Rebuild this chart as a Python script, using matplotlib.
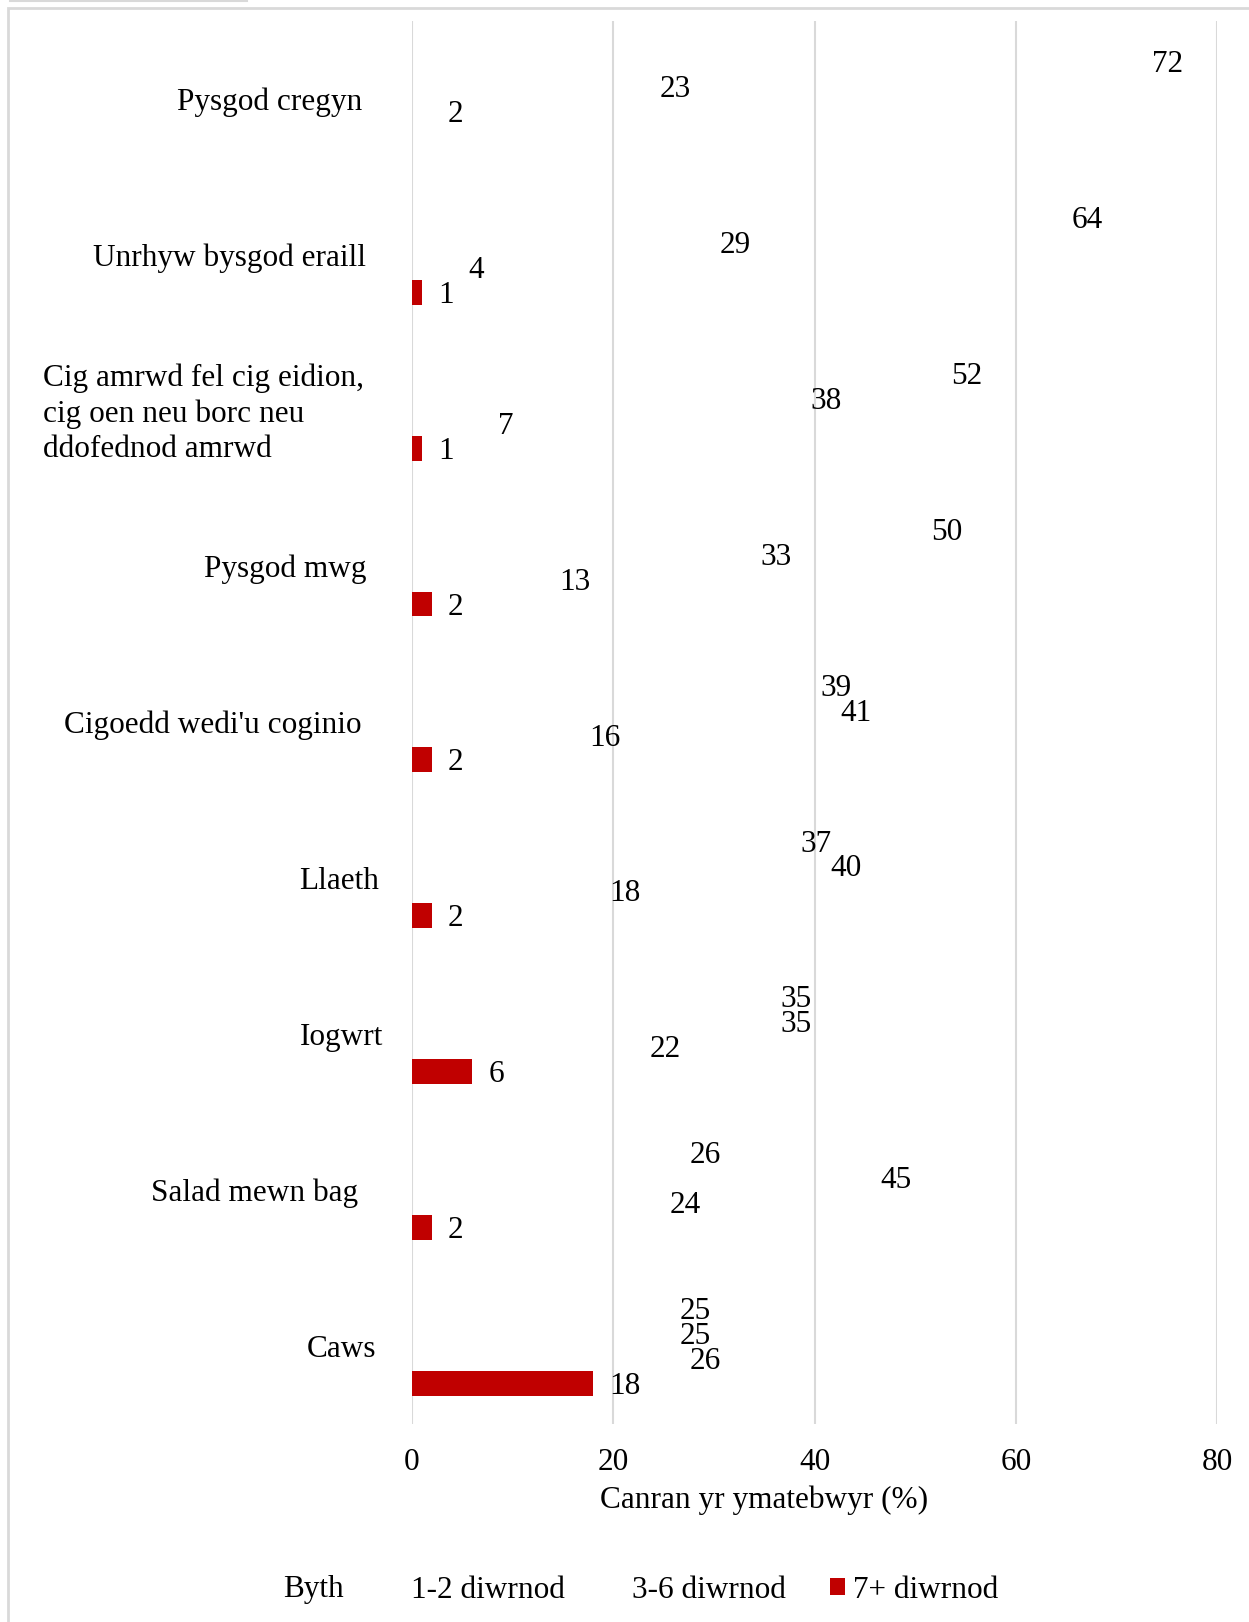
import numpy as np
import matplotlib
matplotlib.use('Agg')
import matplotlib.pyplot as plt
import matplotlib.transforms as mtransforms
from matplotlib.patches import Rectangle, Patch
from matplotlib.lines import Line2D

plt.rcParams['font.family'] = ['Liberation Serif', 'DejaVu Serif']

# data
categories = ['Pysgod cregyn', 'Unrhyw bysgod eraill',
              'Cig amrwd fel cig eidion,\ncig oen neu borc neu\nddofednod amrwd',
              'Pysgod mwg', "Cigoedd wedi'u coginio", 'Llaeth', 'Iogwrt',
              'Salad mewn bag', 'Caws']
series_names = ['Byth', '1-2 diwrnod', '3-6 diwrnod', '7+ diwrnod']
byth = [72, 64, 52, 50, 39, 37, 35, 26, 25]
d12 = [23, 29, 38, 33, 41, 40, 35, 45, 25]
d36 = [2, 4, 7, 13, 16, 18, 22, 24, 26]
d7 = [np.nan, 1, 1, 2, 2, 2, 6, 2, 18]
xticks = [0, 20, 40, 60, 80]
xlabel = 'Canran yr ymatebwyr (%)'

W, H = 1249, 1622
fig = plt.figure(figsize=(W / 100, H / 100), dpi=100)
ax = fig.add_axes([412 / W, 1 - 1424 / H, (1217 - 412) / W, (1424 - 21) / H])

fs = 22.5
y = np.arange(len(categories))
h = 0.16
colors = ['none', 'none', 'none', '#C00000']
for i, (vals, col) in enumerate(zip([byth, d12, d36, d7], colors)):
    vals = np.array(vals, dtype=float)
    pos = y + (i - 1.5) * h
    ax.barh(pos, np.nan_to_num(vals), height=h, color=col, edgecolor='none')
    # data labels
    for v, p in zip(vals, pos):
        if np.isnan(v):
            continue
        ax.annotate('%d' % v, (v, p), xytext=(11.5, -2.2), textcoords='offset points',
                    ha='left', va='center', fontsize=fs)

ax.set_xlim(0, 80)
ax.set_ylim(len(categories) - 0.5, -0.5)
ax.set_xticks(xticks)
ax.set_xticklabels([str(t) for t in xticks], fontsize=fs)
ax.set_yticks([])
ax.tick_params(axis='x', length=0, pad=17)
ax.grid(axis='x', color='#d9d9d9', linewidth=1.5)
ax.set_axisbelow(True)
for s in ax.spines.values():
    s.set_visible(False)

# category labels (right edges in pixels)
label_right = [362, 366, 364, 367, 361, 379, 383, 358, 376]
trans = mtransforms.blended_transform_factory(fig.transFigure, ax.transData)
shift = mtransforms.ScaledTranslation(0, -2.2 / 72, fig.dpi_scale_trans)
for yi, cat, xr in zip(y, categories, label_right):
    ax.text(xr / W, yi, cat, transform=trans + shift, ha='right', va='center',
            multialignment='left', fontsize=fs, linespacing=1.3)

fig.text(764 / W, 1 - 1500 / H, xlabel, ha='center', va='center', fontsize=fs)

# legend
handles = [Patch(facecolor=c if c != 'none' else 'white', edgecolor='none') for c in colors]
fig.legend(handles, series_names, loc='center', bbox_to_anchor=(629 / W, 1 - 1590 / H),
           ncol=4, frameon=False, fontsize=fs, handlelength=0.5, handleheight=0.5,
           handletextpad=0.25, columnspacing=1.4)

# outer frame
fig.add_artist(Rectangle((8 / W, -0.01), 1.1, 1 - 8 / H + 0.01, transform=fig.transFigure,
                         fill=False, edgecolor='#d9d9d9', linewidth=2))
fig.add_artist(Line2D([10 / W, 247 / W], [1 - 0.8 / H, 1 - 0.8 / H], transform=fig.transFigure,
                      color='#d9d9d9', linewidth=1.5))

fig.savefig('out.png', dpi=100)
